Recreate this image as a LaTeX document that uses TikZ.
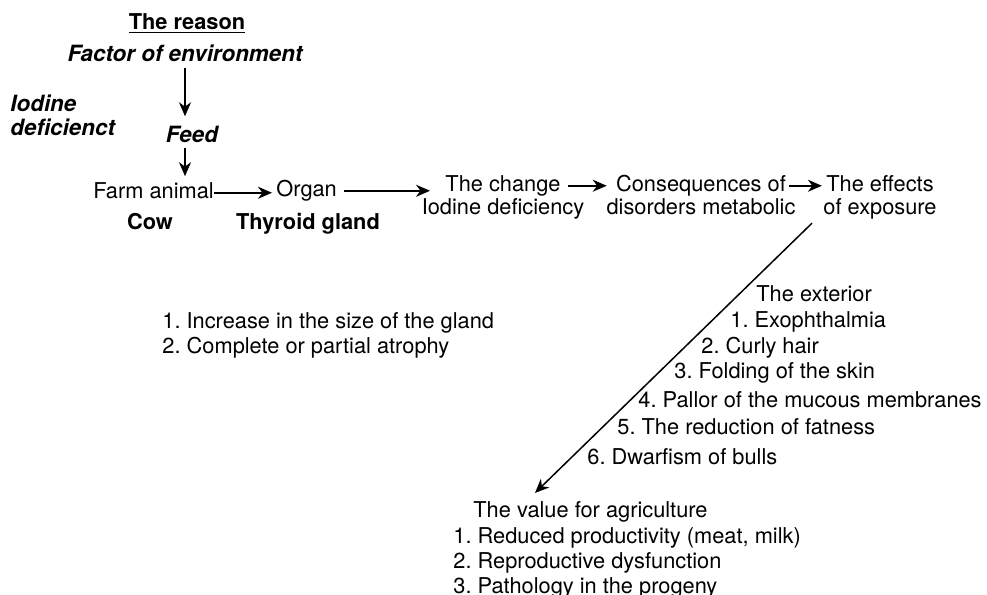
\documentclass[tikz,border=0pt]{standalone}
\usepackage{fontspec}
\setmainfont{TeX Gyre Heros}
\usetikzlibrary{arrows.meta,positioning}

\tikzset{
	txt/.style={inner sep=0pt, font=\fontsize{10.9}{12}\selectfont},
	bold/.style={txt, font=\fontsize{10.9}{12}\selectfont\bfseries},
	head/.style={txt, font=\fontsize{11.2}{12}\selectfont\bfseries\itshape},
	item/.style={txt, anchor=base west},
	link/.style={-{Stealth[length=7pt,width=6pt,inset=2.2pt]}, line width=0.75pt},
}

\begin{document}
\frenchspacing
\begin{tikzpicture}[x=0.5pt, y=-0.5pt]
		\useasboundingbox (0,0) rectangle (987,595);

		% the reason
		\draw (187,29) node[bold, anchor=base] (reason) {\underline{The reason}};
		\draw (185,61) node[head, anchor=base] (factor) {Factor of environment};
		\draw (10,135) node[head, anchor=base west, align=left] (iodine) {Iodine\\deficienct};
		\draw (192,142) node[head, anchor=base] (feed) {Feed};

		% the chain
		\draw (93,198) node[item] (farm) {Farm animal};
		\draw (150,229) node[bold, anchor=base] (cow) {Cow};
		\draw (276,196) node[item] (organ) {Organ};
		\draw (308,229) node[bold, anchor=base] (thyroid) {Thyroid gland};
		\draw (503,191) node[txt, anchor=base] (change) {The change};
		\draw (503,214) node[txt, anchor=base] (changeb) {Iodine deficiency};
		\draw (701,191) node[txt, anchor=base] (cons) {Consequences of};
		\draw (701,214) node[txt, anchor=base] (consb) {disorders metabolic};
		\draw (880,191) node[txt, anchor=base] (effects) {The effects};
		\draw (880,214) node[txt, anchor=base] (effectsb) {of exposure};

		% the gland
		\draw (162,328) node[item] (gland1) {1. Increase in the size of the gland};
		\draw (162,353) node[item] (gland2) {2. Complete or partial atrophy};

		% the exterior
		\draw (756,301) node[item] (exterior) {The exterior};
		\draw (730,327) node[item] (ext1) {1. Exophthalmia};
		\draw (701,353) node[item] (ext2) {2. Curly hair};
		\draw (674,378) node[item] (ext3) {3. Folding of the skin};
		\draw (638,407) node[item] (ext4) {4. Pallor of the mucous membranes};
		\draw (617,434) node[item] (ext5) {5. The reduction of fatness};
		\draw (587,464) node[item] (ext6) {6. Dwarfism of bulls};

		% the value
		\draw (473,517) node[item] (value) {The value for agriculture};
		\draw (453,543) node[item] (agr1) {1. Reduced productivity (meat, milk)};
		\draw (453,568) node[item] (agr2) {2. Reproductive dysfunction};
		\draw (453,593) node[item] (agr3) {3. Pathology in the progeny};

		\draw[link, shorten <=3pt, shorten >=4.5pt] (factor.south) -- (factor.south |- feed.north);
		\draw[link, shorten <=2.5pt, shorten >=2.75pt] (feed.south -| factor.south) -- (factor.south |- farm.north);
		\draw[link, shorten >=2pt] (farm.mid east) -- (farm.mid east -| organ.west);
		\draw[link, shorten <=3.5pt, shorten >=7.5pt] (organ.mid east) -- (organ.mid east -| change.west);
		\draw[link, shorten <=3.5pt, shorten >=4.5pt] (change.mid east) -- (cons.mid west);
		\draw[link, shorten <=1.5pt, shorten >=2pt] (cons.mid east) -- (effects.mid west);
		\draw[link] ([xshift=-5.5pt,yshift=-2pt]effectsb.south west) -- ([xshift=31pt,yshift=3.85pt]value.north west);
	\end{tikzpicture}
\end{document}
